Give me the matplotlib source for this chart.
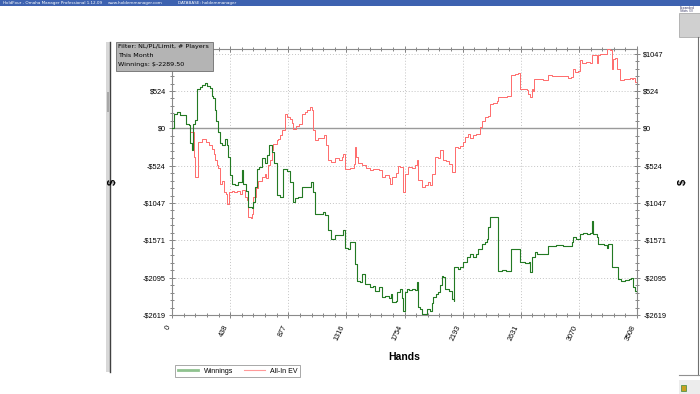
import matplotlib
matplotlib.use("Agg")
import matplotlib.pyplot as plt
from matplotlib.patches import Rectangle
from matplotlib.lines import Line2D

plt.rcParams["font.family"] = ["Liberation Sans", "DejaVu Sans"]

# cumulative winnings (green)
win_hands = [0, 15, 40, 60, 100, 106, 125, 136, 150, 161, 175, 186, 210, 230, 249, 265, 285, 299, 310,
             324, 335, 349, 362, 375, 400, 412, 425, 437, 450, 475, 500, 525, 538, 560, 576, 600, 613,
             625, 639, 660, 677, 700, 714, 734, 752, 770, 790, 815, 840, 870, 890, 915, 928, 950, 978,
             1010, 1049, 1066, 1079, 1110, 1140, 1154, 1179, 1200, 1230, 1270, 1292, 1305, 1330, 1343,
             1370, 1380, 1393, 1420, 1436, 1455, 1494, 1515, 1531, 1560, 1582, 1610, 1640, 1650, 1657,
             1690, 1700, 1720, 1735, 1745, 1758, 1770, 1790, 1810, 1830, 1846, 1858, 1870, 1884, 1910,
             1921, 1945, 1959, 1971, 1990, 2010, 2022, 2034, 2045, 2059, 2090, 2110, 2125, 2130, 2160,
             2175, 2198, 2225, 2248, 2270, 2290, 2310, 2336, 2360, 2375, 2387, 2399, 2450, 2462, 2490,
             2520, 2555, 2590, 2613, 2625, 2660, 2690, 2701, 2713, 2740, 2751, 2800, 2839, 2900, 2950,
             3002, 3015, 3027, 3050, 3078, 3100, 3130, 3153, 3166, 3171, 3178, 3203, 3216, 3260, 3280,
             3291, 3317, 3340, 3354, 3367, 3390, 3420, 3450, 3465, 3480, 3495, 3508]
win_vals = [0, 206, 229, 183, 183, 66, 40, -200, -309, 66, 120, 558, 580, 604, 637, 590, 560, 450, 430,
            260, 100, -52, -200, -239, -150, -239, -400, -650, -780, -800, -760, -590, -780, -880, -1105,
            -1120, -1040, -830, -567, -540, -420, -480, -380, -239, -330, -480, -941, -960, -567, -600,
            -760, -1035, -984, -960, -824, -824, -754, -900, -1199, -1199, -1170, -1210, -1430, -1550,
            -1500, -1490, -1433, -1686, -1690, -1597, -1597, -1900, -2136, -2150, -2038, -2180, -2229,
            -2210, -2276, -2230, -2370, -2355, -2385, -2330, -2440, -2420, -2300, -2252, -2380, -2557,
            -2300, -2252, -2270, -2250, -2270, -2159, -2510, -2530, -2604, -2604, -2530, -2560, -2450,
            -2370, -2320, -2300, -2200, -2065, -2090, -2250, -2280, -2393, -2420, -1949, -1970, -1949,
            -1878, -1800, -1761, -1800, -1761, -1700, -1620, -1600, -1550, -1386, -1246, -1246, -1995,
            -1990, -2000, -1691, -1700, -1690, -1878, -1890, -1878, -2019, -1800, -1740, -1761, -1761,
            -1644, -1640, -1655, -1655, -1597, -1527, -1550, -1480, -1465, -1480, -1465, -1465, -1307,
            -1480, -1527, -1620, -1640, -1680, -1620, -1949, -1949, -1940, -2112, -2140, -2125, -2112,
            -2100, -2230, -2276, -2289.5]

# all-in EV (red)
ev_hands = [0, 15, 40, 60, 100, 106, 125, 136, 161, 165, 175, 191, 195, 210, 224, 245, 260, 280, 300,
            315, 324, 340, 350, 362, 380, 390, 405, 412, 430, 450, 470, 488, 510, 530, 550, 565, 576,
            595, 605, 613, 630, 650, 677, 700, 712, 727, 740, 752, 765, 777, 790, 800, 815, 830, 852,
            870, 890, 905, 915, 935, 960, 978, 1000, 1020, 1041, 1055, 1066, 1079, 1100, 1135, 1149,
            1160, 1179, 1200, 1230, 1260, 1280, 1292, 1305, 1340, 1370, 1380, 1390, 1405, 1430, 1460,
            1494, 1520, 1560, 1582, 1610, 1635, 1645, 1660, 1690, 1707, 1720, 1740, 1745, 1758, 1783,
            1810, 1830, 1846, 1858, 1884, 1910, 1930, 1945, 1959, 1984, 2005, 2022, 2034, 2045, 2070,
            2090, 2110, 2130, 2135, 2160, 2175, 2198, 2210, 2236, 2250, 2270, 2290, 2324, 2336, 2362,
            2385, 2399, 2420, 2450, 2462, 2500, 2530, 2550, 2555, 2590, 2613, 2625, 2660, 2680, 2689,
            2701, 2713, 2726, 2734, 2760, 2800, 2839, 2870, 2940, 2990, 3010, 3027, 3040, 3060, 3078,
            3090, 3120, 3153, 3171, 3190, 3203, 3216, 3229, 3270, 3279, 3304, 3317, 3330, 3340, 3354,
            3380, 3410, 3440, 3455, 3470, 3480, 3490, 3508]
ev_vals = [0, 206, 229, 183, 183, 66, 40, -52, -52, -400, -684, -684, -192, -192, -145, -150, -192,
           -230, -290, -360, -450, -520, -560, -777, -740, -895, -920, -1058, -900, -880, -900, -880,
           -920, -860, -960, -1000, -1246, -1260, -1200, -960, -840, -740, -684, -640, -700, -520, -450,
           -310, -215, -215, -170, -150, -100, -20, 206, 160, 130, 80, -5, 30, 60, 206, 230, 260, 300,
           260, -20, -169, -140, -140, -90, -230, -450, -470, -420, -450, -400, -356, -567, -560, -500,
           -262, -400, -480, -520, -560, -590, -570, -590, -684, -660, -700, -777, -680, -620, -530,
           -544, -824, -895, -640, -544, -560, -520, -450, -731, -824, -790, -760, -800, -637, -403,
           -420, -309, -300, -450, -460, -500, -614, -614, -262, -280, -250, -192, -120, -75, -140,
           -100, -75, 19, 100, 159, 170, 347, 350, 380, 440, 440, 460, 460, 745, 765, 780, 558, 550,
           540, 487, 440, 558, 520, 698, 690, 680, 745, 730, 730, 700, 720, 839, 790, 800, 955, 910,
           930, 910, 1026, 1026, 910, 1026, 1040, 1040, 1120, 1100, 839, 979, 990, 839, 674, 690, 690,
           700, 690, 700, 651, 630]

x_ticks = [0, 438.5, 877, 1315.5, 1754, 2192.5, 2631, 3069.5, 3508]
x_labels = ["0", "438", "877", "1316", "1754", "2193", "2631", "3070", "3508"]
y_ticks = [-2619, -2095.2, -1571.4, -1047.6, -523.8, 0, 523.8, 1047.6]
y_labels = ["-$2619", "-$2095", "-$1571", "-$1047", "-$524", "$0", "$524", "$1047"]

W, H = 700, 394
fig = plt.figure(figsize=(7, 3.94), dpi=100)
fig.patch.set_facecolor("white")

def fx(px):
    return px / W

def fy(py):
    return 1 - py / H

# window chrome
fig.patches.append(Rectangle((0, fy(6)), 1, 6 / H, transform=fig.transFigure,
                             facecolor="#3d62b0", edgecolor="none"))
fig.text(fx(3), fy(3), "HoldFour - Omaha Manager Professional 1.12.09", fontsize=3, color="white",
         va="center", family="DejaVu Sans")
fig.text(fx(108), fy(3), "www.holdemmanager.com", fontsize=3, color="white", va="center",
         family="DejaVu Sans")
fig.text(fx(178), fy(3), "DATABASE: holdemmanager", fontsize=3, color="white", va="center",
         family="DejaVu Sans")
fig.patches.append(Rectangle((fx(106), fy(372)), 5 / W, 330 / H, transform=fig.transFigure,
                             facecolor="#d8d8d8", edgecolor="none"))
fig.patches.append(Rectangle((fx(107), fy(112)), 2 / W, 20 / H, transform=fig.transFigure,
                             facecolor="#a8a8a8", edgecolor="none"))
fig.lines.append(Line2D([fx(110), fx(110)], [fy(42), fy(372)], transform=fig.transFigure,
                        color="#404040", lw=1.0))
# right side panel edge
fig.patches.append(Rectangle((fx(679), fy(37)), 21 / W, 24 / H, transform=fig.transFigure,
                             facecolor="#d0d0d0", edgecolor="#a0a0a0", lw=0.5))
fig.text(fx(680), fy(9.5), "Expanded\nStats (3)", fontsize=2.2, color="#303060", va="center",
         family="DejaVu Sans", linespacing=1.0)
fig.lines.append(Line2D([fx(698), fx(698)], [fy(37), fy(375)], transform=fig.transFigure,
                        color="#707070", lw=0.8))
fig.lines.append(Line2D([fx(679), fx(700)], [fy(375), fy(375)], transform=fig.transFigure,
                        color="#909090", lw=0.8))
fig.patches.append(Rectangle((fx(679), fy(394)), 21 / W, 14 / H, transform=fig.transFigure,
                             facecolor="#ececec", edgecolor="none"))
fig.patches.append(Rectangle((fx(681), fy(391)), 5 / W, 6 / H, transform=fig.transFigure,
                             facecolor="#c8a020", edgecolor="#3a8a3a", lw=0.5))

ax = fig.add_axes([fx(172), fy(315), 465 / W, (315 - 48.5) / H])
ax.set_facecolor("white")

ax.plot(ev_hands, ev_vals, drawstyle="steps-post", color="#ff6b6b", lw=0.7, zorder=3)
ax.plot(win_hands, win_vals, drawstyle="steps-post", color="#237a23", lw=0.8, zorder=4)
ax.axhline(0, color="#9a9a9a", lw=1.0, zorder=2)

ax.set_xlim(0, 3508)
ax.set_ylim(-2619, 1120)

ax.set_xticks(x_ticks)
ax.set_xticklabels(x_labels, rotation=65, ha="right", va="top", fontsize=5.2)
ax.set_xticks([t + k * 87.7 for t in x_ticks[:-1] for k in range(1, 5)], minor=True)
ax.set_yticks(y_ticks)
ax.set_yticklabels(y_labels, fontsize=5.3)
ax.set_yticks([t + k * 104.76 for t in y_ticks for k in range(1, 5) if t + k * 104.76 < 1120],
              minor=True)

ax.tick_params(which="both", direction="inout", top=True, right=True, labelright=True,
               colors="#707070", labelcolor="black", width=0.6)
ax.tick_params(which="major", length=5, pad=2)
ax.tick_params(which="minor", length=3)
ax.tick_params(axis="x", which="major", pad=4)
# left $1047 label sits under the filter box in the screenshot
ax.yaxis.get_major_ticks()[-1].label1.set_visible(False)

ax.grid(True, which="major", linestyle=(0, (1, 2)), color="#c4c4c4", lw=0.7)
for s in ax.spines.values():
    s.set_color("#8a8a8a")
    s.set_linewidth(0.8)

ax.set_xlabel("Hands", fontsize=7.5, fontweight="bold", labelpad=7)
fig.text(fx(113), fy(182), "$", fontsize=8, fontweight="bold", rotation=90, ha="center",
         va="center")
fig.text(fx(683), fy(182), "$", fontsize=8, fontweight="bold", rotation=90, ha="center",
         va="center")

# filter box in the top left
fig.patches.append(Rectangle((fx(116), fy(71)), 97 / W, 29 / H, transform=fig.transFigure,
                             facecolor="#b4b4b4", edgecolor="#6e6e6e", lw=0.6, zorder=10))
for i, line in enumerate(["Filter: NL/PL/Limit, # Players", "This Month", "Winnings: $-2289.50"]):
    fig.text(fx(118), fy(46.5 + 9 * i), line, fontsize=4.6, va="center", family="DejaVu Sans",
             zorder=11)

leg = fig.legend(handles=[Line2D([], [], color="#8fc28f", lw=2.0),
                          Line2D([], [], color="#ff9a9a", lw=0.8)],
                 labels=["Winnings", "All-In EV"], loc="upper left",
                 bbox_to_anchor=(fx(172), fy(362)), ncol=2, fontsize=5, frameon=True,
                 fancybox=False, edgecolor="#808080", handlelength=3, columnspacing=1.5,
                 borderpad=0.3, handletextpad=0.8)
leg.get_frame().set_linewidth(0.6)

fig.savefig("out.png", dpi=100)
